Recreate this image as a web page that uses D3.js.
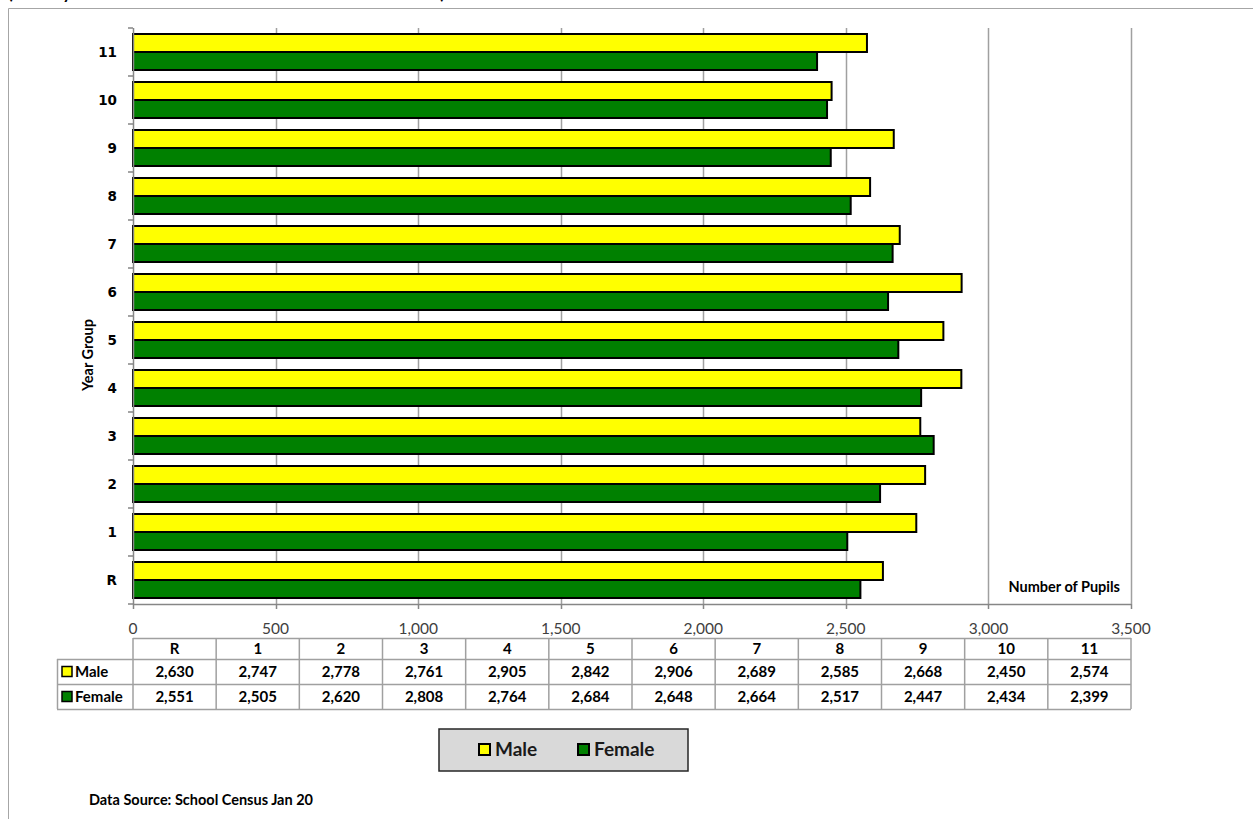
<!DOCTYPE html>
<html><head><meta charset="utf-8">
<script src="https://cdn.jsdelivr.net/npm/d3@7"></script>
<style>body{margin:0;background:#fff;} svg{display:block;font-family:Lato,"Open Sans",sans-serif;}</style>
</head><body>
<svg id="c" width="1253" height="819"></svg>
<script>
const categories = ["R","1","2","3","4","5","6","7","8","9","10","11"];
const seriesNames = ["Male","Female"];
const maleValues = [2630,2747,2778,2761,2905,2842,2906,2689,2585,2668,2450,2574];
const femaleValues = [2551,2505,2620,2808,2764,2684,2648,2664,2517,2447,2434,2399];
const xTicks = [0,500,1000,1500,2000,2500,3000,3500];
const colors = {Male:"#ffff00", Female:"#008000"};

const svg = d3.select("#c");
const fmt = d3.format(",");

// outer frame
svg.append("path").attr("d","M8.5,819 V8.5 H1253").attr("fill","none").attr("stroke","#a6a6a6").attr("stroke-width",1);
// title (cut off at top edge, as in the reference)
svg.append("text").attr("x",8).attr("y",-1.5).attr("font-weight","bold").attr("font-size",17)
  .text("(January 2020 School Census - Number on Roll in Schools)");

const L=133, R=1131, T=28, B=604;
const x = d3.scaleLinear().domain([0,3500]).range([L,R]);
const y = d3.scaleBand().domain(categories.slice().reverse()).range([T,B]).paddingInner(0.25).paddingOuter(0.125);
const ySub = d3.scaleBand().domain(seriesNames).range([0,y.bandwidth()]);

// gridlines
svg.append("g").selectAll("line").data(xTicks.slice(1)).join("line")
  .attr("x1",d=>Math.round(x(d))+0.5).attr("x2",d=>Math.round(x(d))+0.5)
  .attr("y1",T).attr("y2",B).attr("stroke","#a0a0a0").attr("stroke-width",1.5);

// bars
const data = categories.map((c,i)=>({cat:c, Male:maleValues[i], Female:femaleValues[i]}));
const g = svg.append("g");
data.forEach(d=>{
  seriesNames.forEach(s=>{
    g.append("rect").attr("x",x(0)).attr("y",y(d.cat)+ySub(s))
      .attr("width",x(d[s])-x(0)).attr("height",ySub.bandwidth())
      .attr("fill",colors[s]).attr("stroke","#000").attr("stroke-width",2);
  });
});

// y axis
const yAxisG = svg.append("g");
yAxisG.append("line").attr("x1",L+0.5).attr("x2",L+0.5).attr("y1",T).attr("y2",B).attr("stroke","#868686").attr("stroke-width",1.5);
const yb = d3.range(categories.length+1).map(i=>T+i*(B-T)/categories.length);
yAxisG.selectAll(".yt").data(yb).join("line").attr("x1",L-5).attr("x2",L)
  .attr("y1",d=>d).attr("y2",d=>d).attr("stroke","#868686").attr("stroke-width",1.5);
yAxisG.selectAll(".yl").data(categories).join("text")
  .attr("x",117).attr("y",d=>y(d)+y.bandwidth()/2).attr("dy","0.36em")
  .attr("text-anchor","end").attr("font-family","'DejaVu Sans',sans-serif").attr("font-weight","bold").attr("font-size",13.5).text(d=>d);
svg.append("text").attr("transform","translate(93,355) rotate(-90)").attr("text-anchor","middle")
  .attr("font-weight","bold").attr("font-size",14.5).text("Year Group");

// x axis
const xAxisG = svg.append("g");
xAxisG.append("line").attr("x1",L).attr("x2",R).attr("y1",B+0.5).attr("y2",B+0.5).attr("stroke","#868686").attr("stroke-width",1.5);
xAxisG.selectAll(".xt").data(xTicks).join("line").attr("x1",d=>Math.round(x(d))+0.5).attr("x2",d=>Math.round(x(d))+0.5)
  .attr("y1",B).attr("y2",B+5).attr("stroke","#868686").attr("stroke-width",1.5);
xAxisG.selectAll(".xl").data(xTicks).join("text").attr("x",d=>x(d)).attr("y",634)
  .attr("text-anchor","middle").attr("font-size",15.5).attr("fill","#404040").text(d=>fmt(d));
svg.append("text").attr("x",1120).attr("y",592).attr("text-anchor","end").attr("font-weight","bold")
  .attr("font-size",14.5).text("Number of Pupils");

// data table
const colW = (R-L)/categories.length;
const rowY = [638,659,684,709];
const tbl = svg.append("g");
const gridC = "#a0a0a0";
tbl.append("line").attr("x1",L).attr("x2",R).attr("y1",rowY[0]+0.5).attr("y2",rowY[0]+0.5).attr("stroke",gridC).attr("stroke-width",1.5);
[1,2,3].forEach(i=>tbl.append("line").attr("x1",57).attr("x2",R).attr("y1",rowY[i]+0.5).attr("y2",rowY[i]+0.5).attr("stroke",gridC).attr("stroke-width",1.5));
d3.range(categories.length+1).forEach(i=>tbl.append("line").attr("x1",L+i*colW).attr("x2",L+i*colW)
  .attr("y1",rowY[0]).attr("y2",rowY[3]).attr("stroke",gridC).attr("stroke-width",1.5));
tbl.append("line").attr("x1",57.5).attr("x2",57.5).attr("y1",rowY[1]).attr("y2",rowY[3]).attr("stroke",gridC).attr("stroke-width",1.5);
categories.forEach((c,i)=>{
  tbl.append("text").attr("x",L+(i+0.5)*colW).attr("y",(rowY[0]+rowY[1])/2).attr("dy","0.36em")
    .attr("text-anchor","middle").attr("font-weight","bold").attr("font-size",15).text(c);
  [maleValues,femaleValues].forEach((vals,r)=>{
    tbl.append("text").attr("x",L+(i+0.5)*colW).attr("y",(rowY[r+1]+rowY[r+2])/2).attr("dy","0.36em")
      .attr("text-anchor","middle").attr("font-weight","bold").attr("font-size",15).text(fmt(vals[i]));
  });
});
seriesNames.forEach((s,r)=>{
  const cy=(rowY[r+1]+rowY[r+2])/2;
  tbl.append("rect").attr("x",62).attr("y",cy-5).attr("width",10).attr("height",10).attr("fill",colors[s]).attr("stroke","#000").attr("stroke-width",1.5);
  tbl.append("text").attr("x",75).attr("y",cy).attr("dy","0.36em").attr("font-weight","bold").attr("font-size",15).text(s);
});

// legend
const lg = svg.append("g");
lg.append("rect").attr("x",439).attr("y",729).attr("width",249).attr("height",42).attr("fill","#d9d9d9").attr("stroke","#262626").attr("stroke-width",1.5);
const lgX = {Male:478, Female:577};
seriesNames.forEach(s=>{
  lg.append("rect").attr("x",lgX[s]+1).attr("y",744).attr("width",11).attr("height",11).attr("fill",colors[s]).attr("stroke","#000").attr("stroke-width",2);
  lg.append("text").attr("x",lgX[s]+17).attr("y",756).attr("font-weight","bold").attr("font-size",19).attr("fill","#1a1a1a").text(s);
});

svg.append("text").attr("x",89).attr("y",805).attr("font-weight","bold").attr("font-size",14.5).text("Data Source: School Census Jan 20");
</script>
</body></html>
